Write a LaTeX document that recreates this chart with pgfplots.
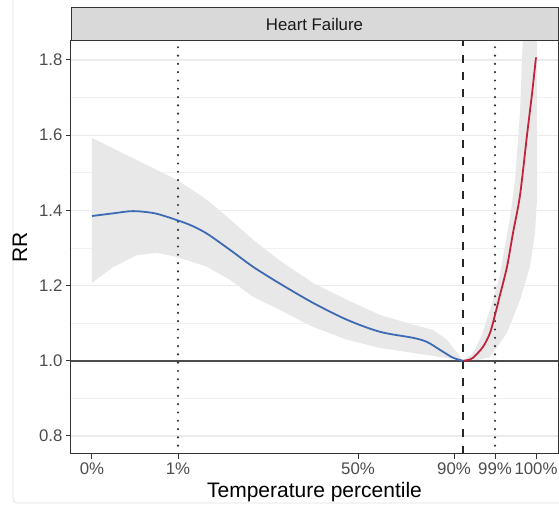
\documentclass[border=0pt]{standalone}
\usepackage{pgfplots}
\pgfplotsset{compat=1.18}
\usepackage{fontspec}
\setmainfont{Liberation Sans}
\definecolor{band}{HTML}{E8E8E8}
\definecolor{gridc}{HTML}{EBEBEB}
\definecolor{bluel}{HTML}{3D6AB3}
\definecolor{redl}{HTML}{C1233C}
\definecolor{framec}{HTML}{333333}
\definecolor{stripf}{HTML}{D9D9D9}
\begin{document}
\begin{tikzpicture}[x=1pt,y=1pt]
\useasboundingbox (-71,-51) rectangle (488,454);
\draw[gray!25, line width=0.8pt, rounded corners=4pt] (-58,-49) rectangle (500,470);
\begin{axis}[
  at={(0,0)}, anchor=south west, scale only axis,
  width=487pt, height=413pt,
  xmin=71, xmax=558, ymin=0.752, ymax=1.8505,
  xtick={92,178,358,454,495,536},
  xticklabels={0\%,1\%,50\%,90\%,99\%,100\%},
  ytick={0.8,1,1.2,1.4,1.6,1.8},
  yticklabels={0.8,1.0,1.2,1.4,1.6,1.8},
  minor ytick={0.9,1.1,1.3,1.5,1.7},
  ymajorgrids, yminorgrids,
  major grid style={draw=gridc, line width=1.2pt},
  minor grid style={draw=gridc!70, line width=0.7pt},
  axis line style={draw=framec, line width=1pt},
  tick style={draw=framec, line width=1pt},
  tick align=outside, tick pos=left,
  major tick length=5pt, minor tick length=0pt,
  ticklabel style={font=\fontsize{16.8}{18}\selectfont, text=black!70},
  /pgf/number format/assume math mode=true,
  xlabel={Temperature percentile}, ylabel={RR},
  every axis x label/.style={at={(axis description cs:0.5,-0.092)}, anchor=center, font=\fontsize{21}{24}\selectfont, text=black},
  every axis y label/.style={at={(axis description cs:-0.1047,0.5)}, anchor=center, rotate=90, font=\fontsize{21}{24}\selectfont, text=black},
]
% confidence band, cold side
\addplot[fill=band, draw=none] coordinates {
 (92,1.593) (135,1.536) (177,1.481) (207,1.428) (227,1.383) (253,1.322)
 (280,1.266) (313,1.207) (347,1.162) (380,1.122) (413,1.096) (433,1.082)
 (447,1.056) (457,1.021) (463,1.0)
 (440,1.010) (413,1.021) (380,1.034) (347,1.056) (313,1.090) (280,1.135)
 (253,1.170) (230,1.215) (207,1.250) (177,1.276) (157,1.287) (137,1.281)
 (113,1.249) (92,1.207)};
% confidence band, heat side
\addplot[fill=band, draw=none] coordinates {
 (463,1.0) (473,1.02) (482,1.07) (490,1.135) (500,1.23) (510,1.38) (515,1.48)
 (520,1.66) (523,1.87) (537,1.87) (537,1.43) (535,1.34) (530,1.25) (520,1.162)
 (507,1.074) (490,1.01) (475,1.0)};
% reference line
\addplot[draw=black!70, line width=1.5pt] coordinates {(71,1) (558,1)};
% percentile lines
\addplot[draw=black!80, line width=2.4pt, line cap=round, dash pattern=on 0pt off 8.3pt] coordinates {(178,0.752) (178,1.8505)};
\addplot[draw=black!80, line width=2.4pt, line cap=round, dash pattern=on 0pt off 8.3pt] coordinates {(495,0.752) (495,1.8505)};
\addplot[draw=black!85, line width=2.2pt, dash pattern=on 8pt off 9pt] coordinates {(463,0.752) (463,1.8505)};
% curves
\addplot[draw=bluel, line width=1.8pt, smooth, tension=0.5] coordinates {
 (92,1.385) (113,1.392) (133,1.398) (155,1.392) (177,1.374) (192,1.359) (207,1.338)
 (230,1.295) (253,1.250) (280,1.205) (313,1.154) (347,1.109) (380,1.077)
 (413,1.061) (427,1.050) (440,1.029) (453,1.008) (463,1.0)};
\addplot[draw=redl, line width=1.8pt, smooth, tension=0.5] coordinates {
 (463,1.0) (468,1.002) (473,1.008) (483,1.037) (490,1.074) (495,1.122)
 (500,1.175) (507,1.25) (513,1.34) (520,1.44) (527,1.60) (532,1.71) (536,1.807)};
\end{axis}
\draw[fill=stripf, draw=framec, line width=1pt] (0,413) rectangle (487,446);
\node[font=\fontsize{16.8}{18}\selectfont, text=black!90] at (243.5,429.5) {Heart Failure};
\end{tikzpicture}
\end{document}
